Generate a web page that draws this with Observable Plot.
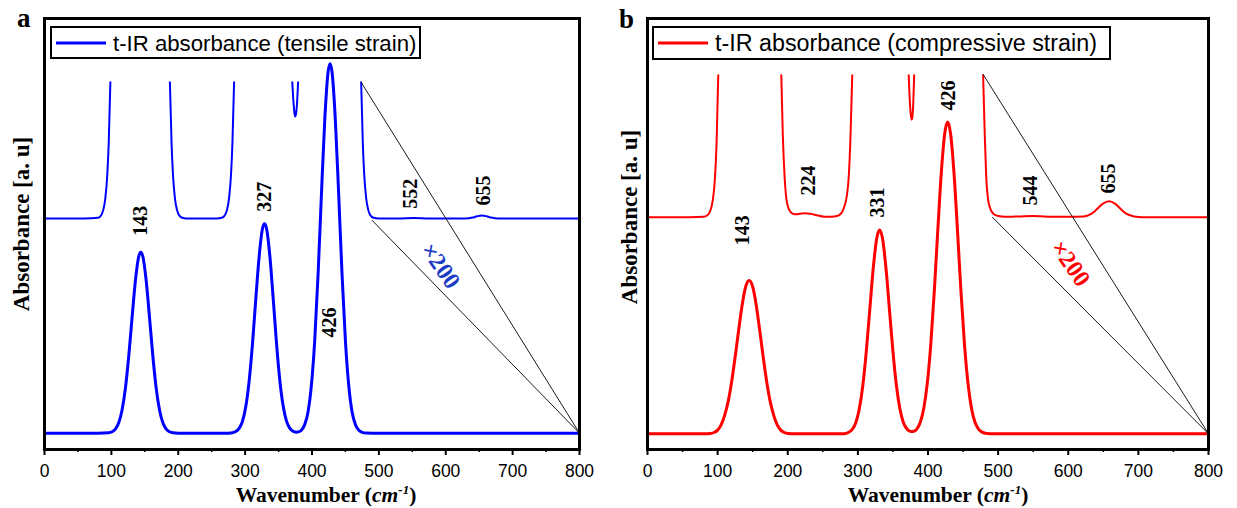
<!DOCTYPE html>
<html>
<head>
<meta charset="utf-8">
<script src="https://cdn.jsdelivr.net/npm/d3@7"></script>
<script src="https://cdn.jsdelivr.net/npm/@observablehq/plot@0.6"></script>
<style>
  html, body { margin: 0; padding: 0; background: #fff; }
  #wrap { position: relative; width: 1237px; height: 508px; overflow: hidden; background: #fff; }
  .panel { position: absolute; top: 0; }
  #overlay { position: absolute; left: 0; top: 0; pointer-events: none; }
</style>
</head>
<body>
<div id="wrap">
  <div class="panel" id="pa" style="left:0px"></div>
  <div class="panel" id="pb" style="left:618px"></div>
  <svg id="overlay" width="1237" height="508"></svg>
</div>
<script>
// ---------------- DATA ----------------
// wavenumber (cm-1) and absorbance (a.u., 426 peak of tensile = 100)
const majorTicks = [0, 100, 200, 300, 400, 500, 600, 700, 800];
const minorTicks = [50, 150, 250, 350, 450, 550, 650, 750];

// Panel a: tensile strain, main trace
const tensileMain = [
  [0,0],[80,0],[96,0.1],[101,0.38],[106,1.1],[111,2.8],[116,6.3],[121,12.2],[126,20.9],[131,31.4],
  [136,41.4],[141,47.9],[144,49],[147,47.9],[152,41.4],[157,31.4],[162,20.9],[167,12.2],[172,6.3],
  [177,2.8],[182,1.1],[187,0.38],[192,0.1],[200,0],[270,0],[281,0.14],[286,0.44],[291,1.3],[296,3.2],
  [301,7.2],[306,14.1],[311,24.2],[316,36.4],[321,47.9],[326,55.4],[329,56.7],[332,55.4],[337,47.9],
  [342,36.4],[347,24.2],[352,14.1],[357,7.2],[362,3.2],[367,1.3],[372,0.48],[377,0.28],[382,0.53],
  [384,0.8],[389,2.3],[394,5.7],[399,12.8],[404,24.9],[409,42.7],[414,64.2],[419,84.5],[424,97.7],
  [427,100],[430,97.7],[435,84.5],[440,64.2],[445,42.7],[450,24.9],[455,12.8],[460,5.7],[465,2.3],
  [470,0.78],[475,0.24],[481,0.05],[500,0],[800,0]
];
// Panel a: x200 magnified trace (relative to its own baseline, cut at the top; null = break)
const tensileZoom = [
  [0,0],[60,0],[80,0.2],[85,0.98],[88,2.4],[91,5.5],[94,12.2],[96,20.3],[98.5,36.9], null,
  [187.5,36.9],[190,20.3],[192,12.2],[195,5.5],[198,2.4],[201,0.98],[206,0.2],[212,0],[258,0],
  [265,0.2],[270,0.98],[273,2.4],[276,5.5],[279,12.2],[281,20.3],[283.5,36.9], null,
  [370.5,36.9],[372.3,31.5],[373.9,28.3],[375,27.6],[376.1,28.3],[377.7,31.5],[379.2,36.9], null,
  [473.5,36.9],[476,20.3],[478,12.2],[481,5.5],[484,2.4],[487,0.98],[492,0.2],[500,0],[530,0],
  [552,0.15],[575,0],[630,0],[640,0.25],[647,0.6],[654,0.8],[661,0.6],[668,0.25],[678,0],[800,0]
];
const tensileGuides = [
  [[473.5,95.0],[800,0]],
  [[490,57.6],[800,0]]
];
const tensileLabels = ["143", "327", "426", "552", "655"];
const tensileLabelAt = [[143.6,57.5],[329,64.0],[426.2,30.0],[547.3,64.8],[656.4,65.7]];
const tensileFactorAt = [592.2, 45.3];

// Panel b: compressive strain, main trace
const compressiveMain = [
  [0,0],[85,0],[89,0.08],[95,0.35],[100,1.0],[105,2.4],[110,5.0],[115,8.7],[120,14.1],[125,20.8],
  [130,28.1],[135,34.9],[140,39.8],[145,41.5],[150,39.8],[155,34.9],[160,28.1],[165,20.8],[170,14.1],
  [175,8.7],[180,5.0],[185,2.4],[190,1.0],[195,0.35],[201,0.08],[210,0],[280,0],[287,0.42],[292,1.2],
  [297,3.0],[302,6.7],[307,13.0],[312,22.3],[317,33.7],[322,45.0],[327,53.0],[331,55.2],[335,53.0],
  [340,45.0],[345,33.7],[350,22.3],[355,13.0],[360,6.7],[365,3.0],[370,1.3],[375.5,0.6],[380,0.71],
  [384,1.27],[389,3.1],[394,6.9],[399,13.7],[404,24.3],[409,38.6],[414,55.2],[419,70.8],[424,81.5],
  [428,84.4],[432,81.5],[437,70.8],[442,55.2],[447,38.6],[452,24.3],[457,13.7],[462,6.9],[467,3.1],
  [472,1.27],[477,0.47],[484,0.1],[495,0],[800,0]
];
const compressiveZoom = [
  [0,0],[60,0],[80,0.1],[85,0.45],[89,1.5],[93,4.5],[96,10],[98.5,20],[100.9,38.4], null,
  [190.8,38.4],[193,22],[195.5,11],[198,5],[201,2.5],[205,1.2],[210,0.8],[217,0.9],[225,1.1],[233,0.9],
  [242,0.5],[252,0.15],[262,0.1],[270,0.3],[276,1.0],[280,2.5],[284,5.5],[287,11],[289.5,22],[292,38.4], null,
  [372.5,38.4],[374.2,31],[375.7,27.4],[376.8,26.4],[377.9,27.4],[379,31],[380.3,38.4], null,
  [478.6,38.4],[481,22],[483,11],[485.5,5],[488.5,2.5],[492,1.2],[497,0.5],[505,0.2],[515,0.1],[530,0.2],
  [549,0.35],[570,0.15],[600,0.1],[622,0.2],[632,0.8],[640,2.0],[649,3.6],[658.5,4.3],[667,3.6],
  [676,2.0],[684,0.8],[694,0.2],[705,0],[800,0]
];
const compressiveGuides = [
  [[478.6,97.3],[800,0]],
  [[492,58.6],[800,0]]
];
const compressiveLabels = ["143", "224", "331", "426", "544", "655"];
const compressiveLabelAt = [[135.5,55.1],[230,68.6],[327.6,62.6],[429.7,91.6],[546.2,65.9],[657.8,69.1]];
const compressiveFactorAt = [603.2, 46.1];

// ---------------- RENDERING ----------------
function toRows(pairs, offset = 0) {
  return pairs.map(p => p ? {w: p[0], a: offset + p[1]} : {w: NaN, a: NaN});
}
function guideRows(guides) {
  return guides.flatMap((seg, g) => seg.map(p => ({w: p[0], a: p[1], g})));
}

function panel(cfg) {
  const serif = "'Liberation Serif', 'Times New Roman', serif";
  const svg = Plot.plot({
    width: cfg.width, height: 508,
    marginLeft: cfg.ml, marginRight: cfg.mr, marginTop: 18, marginBottom: 59,
    x: {domain: [0, 800]},
    y: {domain: cfg.yDomain, axis: null},
    style: {background: "transparent", overflow: "visible", fontFamily: "'Liberation Sans', Arial, sans-serif", fontSize: "17.5px", color: "black"},
    marks: [
      Plot.line(toRows(cfg.main), {x: "w", y: "a", stroke: cfg.color, strokeWidth: 3, curve: "monotone-x"}),
      Plot.line(toRows(cfg.zoom, cfg.offset), {x: "w", y: "a", stroke: cfg.color, strokeWidth: 2, curve: "monotone-x"}),
      Plot.line(guideRows(cfg.guides), {x: "w", y: "a", z: "g", stroke: "black", strokeWidth: 0.9}),
      Plot.text(cfg.labels.map((t, i) => ({t, w: cfg.labelAt[i][0], a: cfg.labelAt[i][1]})),
        {x: "w", y: "a", text: "t", rotate: -90, fontFamily: serif, fontWeight: "bold", fontSize: 20, fill: "black"}),
      Plot.text([{t: "\u00d7200", w: cfg.factorAt[0], a: cfg.factorAt[1]}],
        {x: "w", y: "a", text: "t", rotate: 55, fontFamily: serif, fontWeight: "bold", fontSize: 24, fill: cfg.factorColor}),
      Plot.frame({stroke: "black", strokeWidth: 3}),
      Plot.axisX({ticks: majorTicks, tickSize: 6, tickPadding: 9, strokeWidth: 2, label: null,
        fontSize: 17.5, tickFormat: d => String(d)}),
      Plot.axisX({ticks: minorTicks, tickSize: 3, strokeWidth: 1.5, label: null, tickFormat: () => ""})
    ]
  });
  // make sure the tick labels use the reference's larger size
  d3.select(svg).selectAll("g[aria-label='x-axis tick label'], g[aria-label='x-axis tick label'] text")
    .attr("font-size", 17.5).style("font-size", "17.5px");
  return svg;
}

document.getElementById("pa").appendChild(panel({
  width: 618, ml: 44, mr: 39, yDomain: [-4.41, 112.26],
  main: tensileMain, zoom: tensileZoom, offset: 58.12, guides: tensileGuides,
  labels: tensileLabels, labelAt: tensileLabelAt, factorAt: tensileFactorAt,
  color: "#0000ff", factorColor: "#1c3cc4"
}));
document.getElementById("pb").appendChild(panel({
  width: 619, ml: 29, mr: 29, yDomain: [-4.25, 112.43],
  main: compressiveMain, zoom: compressiveZoom, offset: 58.64, guides: compressiveGuides,
  labels: compressiveLabels, labelAt: compressiveLabelAt, factorAt: compressiveFactorAt,
  color: "#ff0000", factorColor: "#ff0000"
}));

// ---------------- overlay texts: panel letters, axis titles, legends ----------------
const ov = d3.select("#overlay");
const serifF = "'Liberation Serif', 'Times New Roman', serif";
const sansF = "'Liberation Sans', Arial, sans-serif";
const panelsText = [
  {letter: "a", lx: 17, ly: 27, yTitleX: 29, yTitleY: 224, xTitleX: 326,
   legend: {x: 51, y: 27, w: 369, h: 31, text: "t-IR absorbance (tensile strain)", size: 22.2, color: "#0000ff"}},
  {letter: "b", lx: 619, ly: 28, yTitleX: 637, yTitleY: 217, xTitleX: 938,
   legend: {x: 653, y: 27, w: 457, h: 32, text: "t-IR absorbance (compressive strain)", size: 23.3, color: "#ff0000"}}
];
for (const p of panelsText) {
  ov.append("text").attr("x", p.lx).attr("y", p.ly)
    .attr("font-family", serifF).attr("font-weight", "bold").attr("font-size", 27).text(p.letter);
  ov.append("text")
    .attr("transform", `translate(${p.yTitleX},${p.yTitleY}) rotate(-90)`)
    .attr("text-anchor", "middle").attr("font-family", serifF).attr("font-weight", "bold")
    .attr("font-size", 23).text("Absorbance [a. u]");
  const xt = ov.append("text").attr("x", p.xTitleX).attr("y", 502).attr("text-anchor", "middle")
    .attr("font-family", serifF).attr("font-weight", "bold").attr("font-size", 21.5);
  xt.append("tspan").text("Wavenumber (");
  xt.append("tspan").attr("font-style", "italic").text("cm");
  xt.append("tspan").attr("font-style", "italic").attr("font-size", 13).attr("dy", -8).text("-1");
  xt.append("tspan").attr("dy", 8).text(")");
  const L = p.legend;
  ov.append("rect").attr("x", L.x).attr("y", L.y).attr("width", L.w).attr("height", L.h)
    .attr("fill", "white").attr("stroke", "black").attr("stroke-width", 2);
  ov.append("line").attr("x1", L.x + 5).attr("x2", L.x + 55).attr("y1", L.y + 16).attr("y2", L.y + 16)
    .attr("stroke", L.color).attr("stroke-width", 3);
  ov.append("text").attr("x", L.x + 62).attr("y", L.y + 24).attr("font-family", sansF)
    .attr("font-size", L.size).text(L.text);
}
</script>
</body>
</html>
